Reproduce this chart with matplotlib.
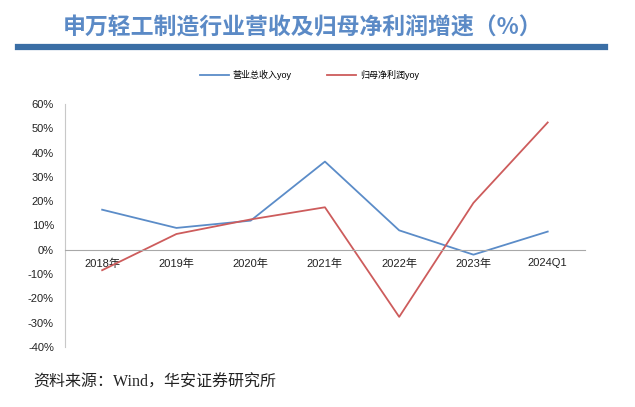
import matplotlib.pyplot as plt
from matplotlib.ticker import FuncFormatter

plt.rcParams['font.family'] = ['Liberation Sans', 'Noto Sans CJK SC', 'DejaVu Sans']

categories = ['2018年', '2019年', '2020年', '2021年', '2022年', '2023年', '2024Q1']
revenue_yoy = [16.5, 9.0, 12.0, 36.3, 8.0, -2.0, 7.5]
profit_yoy = [-8.4, 6.5, 12.5, 17.5, -27.6, 19.3, 52.4]
yticks = list(range(-40, 61, 10))

fig = plt.figure(figsize=(6.35, 4.07), dpi=100)
fig.patch.set_facecolor('white')

# title and bar
fig.text(0.476, 0.932, '申万轻工制造行业营收及归母净利润增速（%）', ha='center', va='center',
         fontsize=16.5, fontweight='bold', color='#5B8AC6',
         family=['Noto Sans CJK SC', 'DejaVu Sans'])
fig.add_artist(plt.Line2D([0.028, 0.952], [0.885, 0.885], color='#3A6EA5', lw=4.5,
                          transform=fig.transFigure))

ax = fig.add_axes([0.1024, 0.1474, 0.8186, 0.5971])
x = range(len(categories))
ax.plot(x, revenue_yoy, color='#5B8CC8', lw=1.3, label='营业总收入yoy')
ax.plot(x, profit_yoy, color='#CD5C5C', lw=1.3, label='归母净利润yoy')

ax.set_xlim(-0.5, len(categories) - 0.5)
ax.set_ylim(-40, 60)
ax.set_yticks(yticks)
ax.yaxis.set_major_formatter(FuncFormatter(lambda v, p: f'{v:.0f}%'))
ax.set_xticks(list(x))
ax.set_xticklabels(categories)

for s in ['top', 'right']:
    ax.spines[s].set_visible(False)
ax.spines['left'].set_color('#C8C8C8')
ax.spines['bottom'].set_color('#A8A8A8')
ax.spines['bottom'].set_position(('data', 0))
ax.tick_params(axis='both', length=0, labelsize=8, colors='#222222')
ax.tick_params(axis='x', pad=6)
ax.tick_params(axis='y', pad=8)

ax.legend(loc='center', bbox_to_anchor=(0.47, 1.12), ncol=2, frameon=False,
          fontsize=6.5, handlelength=3.2, columnspacing=4, handletextpad=0.4)

fig.text(0.052, 0.061, '资料来源：Wind，华安证券研究所', ha='left', va='center',
         fontsize=11.5, color='#222222',
         family=['Liberation Serif', 'Noto Sans CJK SC', 'DejaVu Sans'])

fig.savefig('out.png', dpi=100)
